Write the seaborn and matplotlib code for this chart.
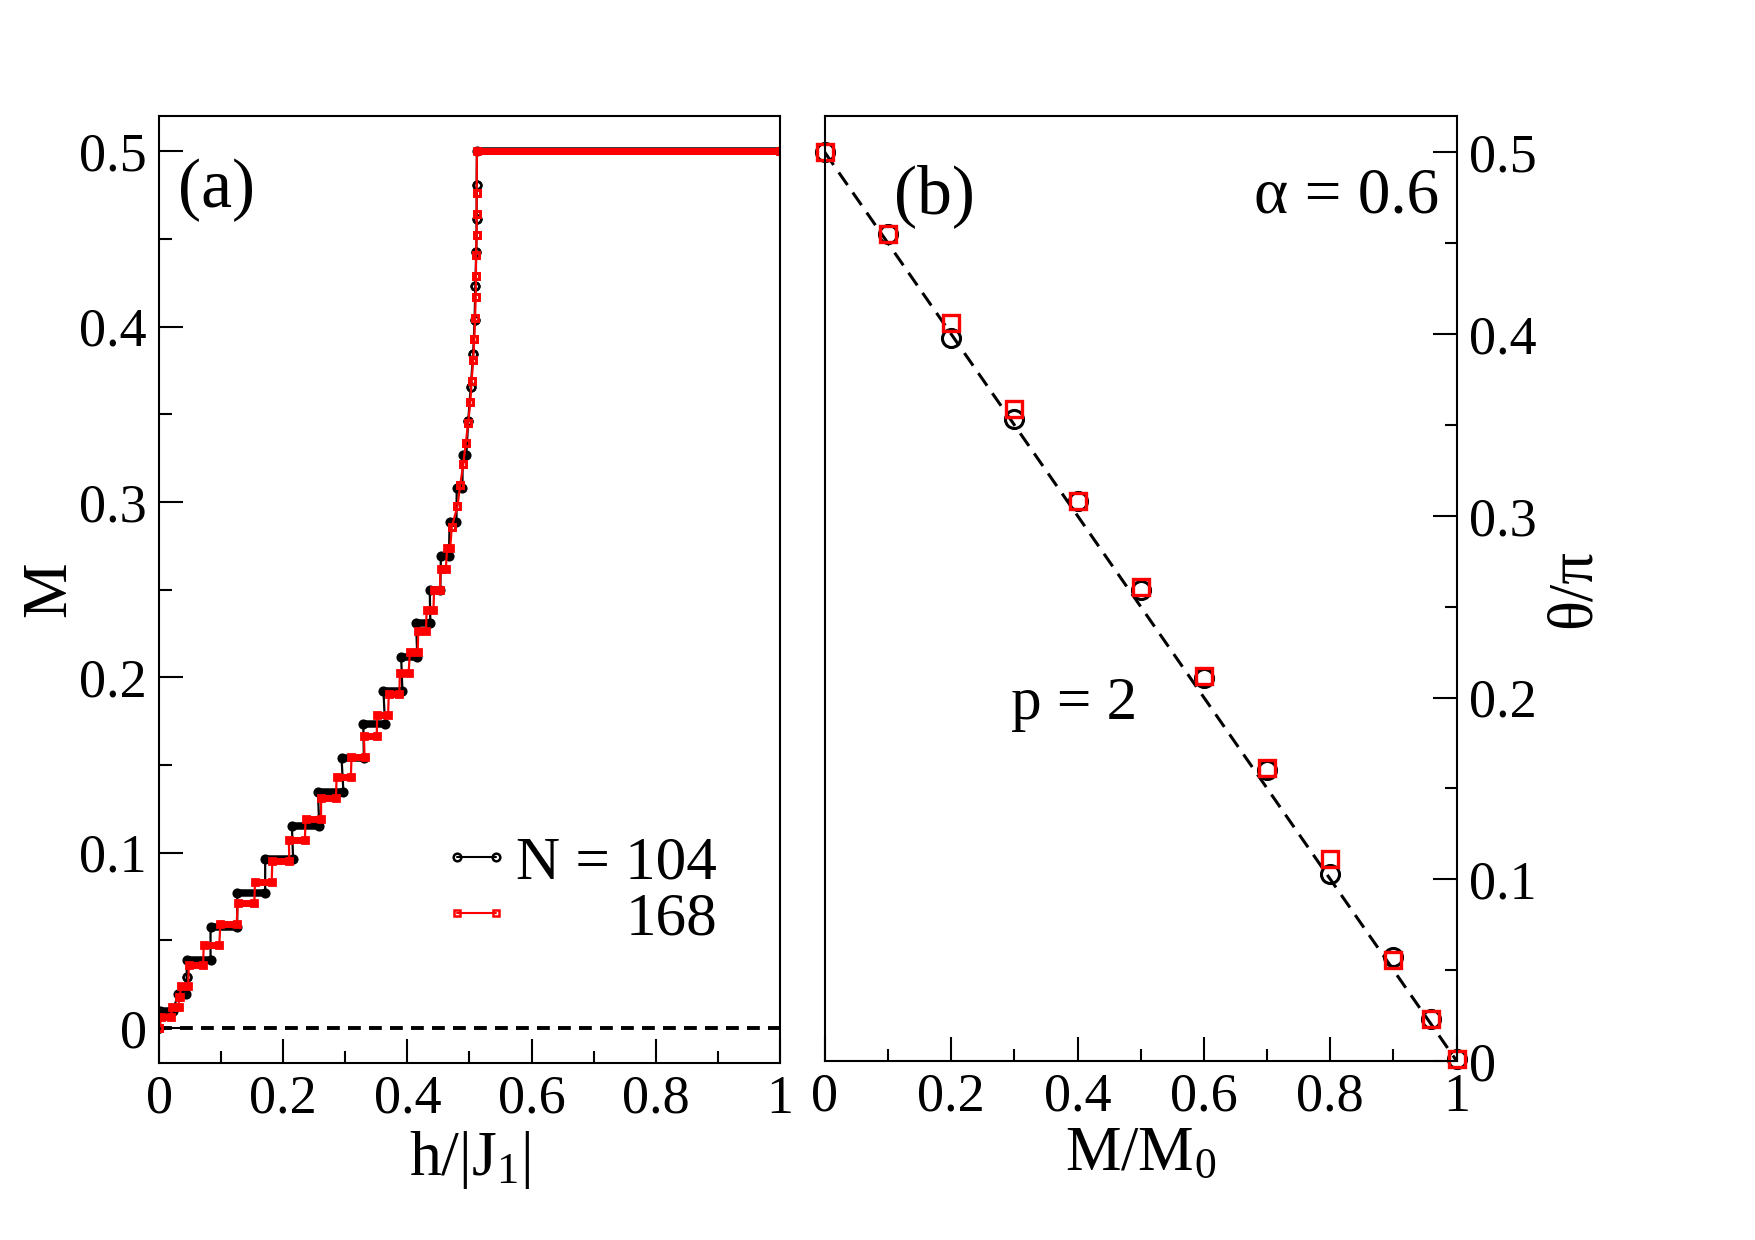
import numpy as np
import matplotlib
matplotlib.use("Agg")
import matplotlib.pyplot as plt
from matplotlib.lines import Line2D
from matplotlib.ticker import MultipleLocator, FuncFormatter
import seaborn as sns

# ---- panel (a): magnetization plateaus, M level held between h_lo and h_hi
M_104 = [0, 0.0096, 0.0192, 0.0288, 0.0385, 0.0577, 0.0769, 0.0962, 0.1154,
         0.1346, 0.1538, 0.1731, 0.1923, 0.2115, 0.2308, 0.25, 0.2692, 0.2885,
         0.3077, 0.3269, 0.3462, 0.3654, 0.3846, 0.4038, 0.4231, 0.4423,
         0.4615, 0.4808, 0.5]
h_lo_104 = [0, 0.002, 0.030, 0.0446, 0.045, 0.083, 0.126, 0.171, 0.214,
            0.256, 0.294, 0.329, 0.3615, 0.390, 0.414, 0.436, 0.454, 0.468,
            0.4795, 0.489, 0.498, 0.502, 0.506, 0.5083, 0.5094, 0.511,
            0.5116, 0.5116, 0.512]
h_hi_104 = [0, 0.023, 0.043, 0.0446, 0.083, 0.126, 0.171, 0.216, 0.258,
            0.297, 0.330, 0.364, 0.392, 0.416, 0.437, 0.453, 0.467, 0.479,
            0.4887, 0.495, 0.498, 0.502, 0.506, 0.5083, 0.5094, 0.511,
            0.5116, 0.5116, 1.0]

M_168 = [0, 0.006, 0.0119, 0.0179, 0.0238, 0.0357, 0.0476, 0.0595, 0.0714,
         0.0833, 0.0952, 0.1071, 0.119, 0.131, 0.1429, 0.1548, 0.1667, 0.1786,
         0.1905, 0.2024, 0.2143, 0.2262, 0.2381, 0.25, 0.2619, 0.2738, 0.2857,
         0.2976, 0.3095, 0.3214, 0.3333, 0.3452, 0.3571, 0.369, 0.381, 0.3929,
         0.4048, 0.4167, 0.4286, 0.4405, 0.4524, 0.4643, 0.4762, 0.5]
h_lo_168 = [0, 0.004, 0.021, 0.032, 0.035, 0.048, 0.072, 0.099, 0.127,
            0.1546, 0.1825, 0.209, 0.236, 0.261, 0.286, 0.31, 0.330, 0.3515,
            0.370, 0.388, 0.404, 0.4175, 0.431, 0.443, 0.4535, 0.464, 0.4715,
            0.4807, 0.485, 0.49, 0.494, 0.498, 0.5014, 0.5035, 0.506, 0.5078,
            0.509, 0.51, 0.5105, 0.5105, 0.5116, 0.5116, 0.5116, 0.512]
h_hi_168 = [0, 0.019, 0.032, 0.034, 0.047, 0.071, 0.097, 0.125, 0.1535,
            0.1815, 0.21, 0.235, 0.261, 0.285, 0.309, 0.331, 0.3506, 0.369,
            0.387, 0.402, 0.4166, 0.43, 0.442, 0.4525, 0.462, 0.469, 0.4715,
            0.4807, 0.485, 0.49, 0.494, 0.498, 0.5014, 0.5035, 0.506, 0.5078,
            0.509, 0.51, 0.5105, 0.5105, 0.5116, 0.5116, 0.5116, 1.0]

# ---- panel (b): theta/pi against M/M0
mm0 = [0, 0.1, 0.2, 0.3, 0.4, 0.5, 0.6, 0.7, 0.8, 0.9, 0.96, 1.0]
theta_104 = [0.5, 0.455, 0.398, 0.3535, 0.308, 0.259, 0.211, 0.160, 0.103,
             0.057, 0.023, 0.001]
theta_168 = [0.5, 0.455, 0.406, 0.359, 0.308, 0.261, 0.212, 0.161, 0.111,
             0.0555, 0.023, 0.001]
line_x = [0, 1]
line_y = [0.5, 0]

sns.set_style("ticks")
plt.rcParams["font.family"] = ["Liberation Serif", "DejaVu Serif"]
plt.rcParams["mathtext.fontset"] = "custom"
plt.rcParams["mathtext.rm"] = "Liberation Serif"
plt.rcParams["mathtext.it"] = "Liberation Serif:italic"
for key in ("text.color", "axes.labelcolor", "xtick.color", "ytick.color",
            "axes.edgecolor"):
    plt.rcParams[key] = "black"

TICK_FS = 39
LAB_FS = 45

fig = plt.figure(figsize=(17.55, 12.4), dpi=100)
ax1 = fig.add_axes([0.0906, 0.1427, 0.3538, 0.7637])
ax2 = fig.add_axes([0.470, 0.1444, 0.360, 0.762])


def staircase(ax, M, lo, hi, color, marker, ms, mew, bar_lw, cap):
    M, lo, hi = np.asarray(M), np.asarray(lo), np.asarray(hi)
    xs = np.column_stack([lo, hi]).ravel()
    ys = np.repeat(M, 2)
    sns.lineplot(x=xs, y=ys, sort=False, estimator=None, ax=ax, color=color,
                 lw=1.6, marker=marker, ms=ms, mfc="none", mec=color, mew=mew)
    wide = hi > lo
    bars = ax.hlines(M[wide], lo[wide], hi[wide], colors=color, lw=bar_lw)
    bars.set_capstyle(cap)


ax1.axhline(0, color="k", lw=2.8, ls=(0, (3.3, 2.1)))
staircase(ax1, M_104, h_lo_104, h_hi_104, "black", "o", 5.5, 1.8, 5.4, "round")
staircase(ax1, M_168, h_lo_168, h_hi_168, "red", "s", 5.0, 2.0, 5.0, "projecting")

ax1.set_xlim(0, 1)
ax1.set_ylim(-0.02, 0.52)
ax1.xaxis.set_major_locator(MultipleLocator(0.2))
ax1.xaxis.set_minor_locator(MultipleLocator(0.1))
ax1.yaxis.set_major_locator(MultipleLocator(0.1))
ax1.yaxis.set_minor_locator(MultipleLocator(0.05))
ax1.set_xlabel(r"h/|$\mathrm{J}_1$|", fontsize=46, labelpad=3)
ax1.set_ylabel("M", fontsize=LAB_FS, labelpad=0)
ax1.text(0.092, 0.922, "(a)", transform=ax1.transAxes, fontsize=50,
         ha="center", va="center")

handles = [Line2D([], [], color="k", lw=1.5, marker="o", ms=5.5, mfc="none", mew=1.8),
           Line2D([], [], color="red", lw=1.5, marker="s", ms=5.0, mfc="none", mew=1.8)]
leg = ax1.legend(handles, ["N = 104", " "], loc="center left",
                 bbox_to_anchor=(0.45, 0.181), frameon=False, fontsize=44,
                 handlelength=1.25, handletextpad=0.02, labelspacing=0.0,
                 borderpad=0, borderaxespad=0, numpoints=2)
ax1.annotate("168", xy=(1, 0.5),
             xycoords=(leg.get_texts()[0], leg.get_texts()[1]),
             ha="right", va="center", fontsize=44, zorder=6)

# panel (b)
sns.lineplot(x=line_x, y=line_y, ax=ax2, color="k", lw=2.2,
             ls=(0, (5.0, 3.0)), sort=False, estimator=None)
sns.lineplot(x=mm0, y=theta_104, ax=ax2, ls="none", marker="o", ms=13,
             mfc="none", mec="black", mew=2.2, sort=False, estimator=None,
             clip_on=False)
sns.lineplot(x=mm0, y=theta_168, ax=ax2, ls="none", marker="s", ms=12,
             mfc="none", mec="red", mew=2.4, sort=False, estimator=None,
             clip_on=False)
ax2.set_xlim(0, 1)
ax2.set_ylim(0, 0.52)
ax2.xaxis.set_major_locator(MultipleLocator(0.2))
ax2.xaxis.set_minor_locator(MultipleLocator(0.1))
ax2.yaxis.set_major_locator(MultipleLocator(0.1))
ax2.yaxis.set_minor_locator(MultipleLocator(0.05))
ax2.yaxis.tick_right()
ax2.yaxis.set_label_position("right")
ax2.set_xlabel(r"M/$\mathrm{M}_0$", fontsize=LAB_FS, labelpad=3)
ax2.set_ylabel("θ/π", fontsize=LAB_FS, labelpad=6)
ax2.text(0.174, 0.915, "(b)", transform=ax2.transAxes, fontsize=50,
         ha="center", va="center")
ax2.text(0.973, 0.915, "α = 0.6", transform=ax2.transAxes, fontsize=47,
         ha="right", va="center")
ax2.text(0.394, 0.377, "p = 2", transform=ax2.transAxes, fontsize=44,
         ha="center", va="center")

fmt = FuncFormatter(lambda v, p: f"{v:g}")
for ax in (ax1, ax2):
    for s in ax.spines.values():
        s.set_linewidth(1.5)
        s.set_visible(True)
    ax.xaxis.set_major_formatter(fmt)
    ax.yaxis.set_major_formatter(fmt)
    ax.tick_params(which="both", direction="in", width=1.5, labelsize=TICK_FS,
                   top=False)
    ax.tick_params(which="major", length=17)
    ax.tick_params(which="minor", length=9)
    ax.tick_params(axis="x", pad=8)
    ax.tick_params(axis="y", pad=9)

ax1.tick_params(axis="y", right=False, left=True)
ax2.tick_params(axis="y", left=False, right=True, labelleft=False, labelright=True)

fig.canvas.draw()
fig.savefig("out.png", dpi=100)
